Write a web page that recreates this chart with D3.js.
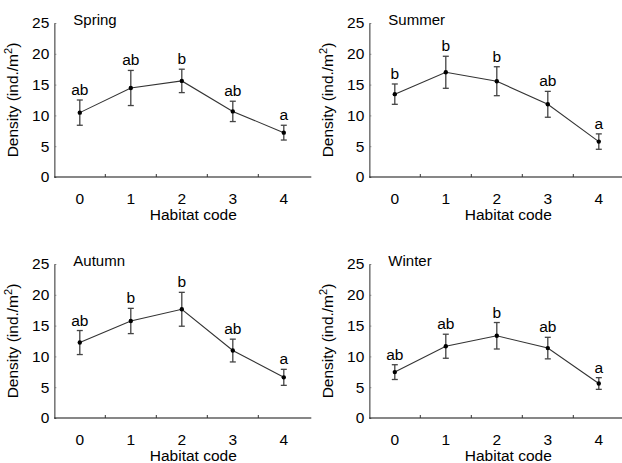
<!DOCTYPE html>
<html>
<head>
<meta charset="utf-8">
<script src="https://cdn.jsdelivr.net/npm/d3@7"></script>
<style>
  body { margin: 0; background: #fff; }
  svg { display: block; font-family: "Liberation Sans", Arial, sans-serif; }
</style>
</head>
<body>
<svg id="chart" width="622" height="463"></svg>
<script>
const categories = ["0", "1", "2", "3", "4"];
const seasons = ["Spring", "Summer", "Autumn", "Winter"];
const yTicks = [0, 5, 10, 15, 20, 25];

const springMean = [10.45, 14.45, 15.6, 10.65, 7.2];
const springErr  = [2.05, 2.85, 1.9, 1.65, 1.2];
const springLetters = ["ab", "ab", "b", "ab", "a"];

const summerMean = [13.45, 17.0, 15.55, 11.8, 5.75];
const summerErr  = [1.65, 2.6, 2.35, 2.1, 1.25];
const summerLetters = ["b", "b", "b", "ab", "a"];

const autumnMean = [12.25, 15.75, 17.65, 10.95, 6.6];
const autumnErr  = [1.95, 2.05, 2.75, 1.85, 1.3];
const autumnLetters = ["ab", "b", "b", "ab", "a"];

const winterMean = [7.45, 11.65, 13.35, 11.35, 5.6];
const winterErr  = [1.2, 1.95, 2.15, 1.75, 0.95];
const winterLetters = ["ab", "ab", "b", "ab", "a"];

const panels = [
  { name: seasons[0], mean: springMean, err: springErr, letters: springLetters, ox: 0,   oy: 0 },
  { name: seasons[1], mean: summerMean, err: summerErr, letters: summerLetters, ox: 315, oy: 0 },
  { name: seasons[2], mean: autumnMean, err: autumnErr, letters: autumnLetters, ox: 0,   oy: 241 },
  { name: seasons[3], mean: winterMean, err: winterErr, letters: winterLetters, ox: 315, oy: 241 }
];

const svg = d3.select("#chart");
const FS = 15.5;
const axX = 54.3, plotW = 255, zeroY = 177, topY = 23;

const x = d3.scaleBand().domain(categories).range([axX, axX + plotW]).padding(0);
const y = d3.scaleLinear().domain([0, 25]).range([zeroY, topY]);

panels.forEach(p => {
  const g = svg.append("g").attr("transform", `translate(${p.ox},${p.oy})`);

  // y axis
  const ya = g.append("g").attr("transform", `translate(${axX},0)`)
    .call(d3.axisLeft(y).tickValues(yTicks).tickSizeInner(-2).tickSizeOuter(0).tickPadding(5));
  ya.select(".domain").attr("stroke", "#7a7a7a").attr("stroke-width", 1.6);
  ya.selectAll(".tick line").attr("stroke", "#7a7a7a");
  ya.selectAll(".tick text").attr("font-size", FS).attr("fill", "#000")
    .attr("font-family", "Liberation Sans, Arial, sans-serif");

  // x axis line and boundary ticks
  g.append("line").attr("x1", axX).attr("x2", axX + plotW + 2)
    .attr("y1", zeroY).attr("y2", zeroY).attr("stroke", "#111").attr("stroke-width", 1.2);
  g.selectAll(".btick").data(categories.slice(1)).enter().append("line")
    .attr("x1", d => x(d)).attr("x2", d => x(d))
    .attr("y1", zeroY).attr("y2", zeroY - 3)
    .attr("stroke", "#333").attr("stroke-width", 1);

  // x tick labels
  const xa = g.append("g").attr("transform", `translate(0,${zeroY})`)
    .call(d3.axisBottom(x).tickSize(0).tickPadding(15.5));
  xa.select(".domain").remove();
  xa.selectAll(".tick text").attr("font-size", FS).attr("fill", "#000")
    .attr("font-family", "Liberation Sans, Arial, sans-serif");

  // x axis title
  g.append("text").attr("x", axX + 139).attr("y", 219.5)
    .attr("text-anchor", "middle").attr("font-size", FS).text("Habitat code");

  // y axis title
  const yt = g.append("text").attr("transform", `translate(18,${(zeroY + topY) / 2}) rotate(-90)`)
    .attr("text-anchor", "middle").attr("font-size", FS);
  yt.append("tspan").text("Density (ind./m");
  yt.append("tspan").attr("dy", -6).attr("font-size", 11).text("2");
  yt.append("tspan").attr("dy", 6).text(")");

  // panel title
  g.append("text").attr("x", axX + 19).attr("y", 24.5).attr("font-size", 15).text(p.name);

  const data = categories.map((c, i) => ({ c, m: p.mean[i], e: p.err[i], l: p.letters[i] }));
  const cx = d => x(d.c) + x.bandwidth() / 2;

  // line
  g.append("path").datum(data)
    .attr("d", d3.line().x(cx).y(d => y(d.m)))
    .attr("fill", "none").attr("stroke", "#333").attr("stroke-width", 1.1);

  // error bars
  const eb = g.selectAll(".eb").data(data).enter().append("g").attr("stroke", "#444").attr("stroke-width", 1.3);
  eb.append("line").attr("x1", cx).attr("x2", cx).attr("y1", d => y(d.m + d.e)).attr("y2", d => y(d.m - d.e));
  eb.append("line").attr("x1", d => cx(d) - 3).attr("x2", d => cx(d) + 3).attr("y1", d => y(d.m + d.e)).attr("y2", d => y(d.m + d.e));
  eb.append("line").attr("x1", d => cx(d) - 3).attr("x2", d => cx(d) + 3).attr("y1", d => y(d.m - d.e)).attr("y2", d => y(d.m - d.e));

  // points
  g.selectAll(".pt").data(data).enter().append("circle")
    .attr("cx", cx).attr("cy", d => y(d.m)).attr("r", 2.2).attr("fill", "#000");

  // significance letters
  g.selectAll(".lt").data(data).enter().append("text")
    .attr("x", cx).attr("y", d => y(d.m + d.e) - 5)
    .attr("text-anchor", "middle").attr("font-size", FS).text(d => d.l);
});
</script>
</body>
</html>
